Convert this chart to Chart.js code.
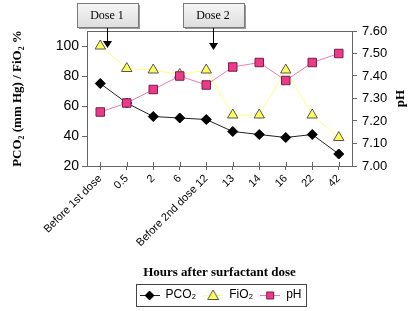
<!DOCTYPE html>
<html>
<head>
<meta charset="utf-8">
<script src="https://cdn.jsdelivr.net/npm/chart.js@4/dist/chart.umd.min.js"></script>
<style>
  html, body { margin: 0; padding: 0; background: #fff; }
</style>
</head>
<body>
<canvas id="myChart" width="413" height="311"></canvas>
<script>
// values
const hours = ['Before 1st dose', '0.5', '2', '6', 'Before 2nd dose 12', '13', '14', '16', '22', '42'];
const pco2 = [75, 62, 53, 52, 51, 43, 41, 39, 41, 28];
const fio2 = [100, 85, 84, 81, 84, 54, 54, 84, 54, 39];
const ph = [7.24, 7.28, 7.34, 7.40, 7.36, 7.44, 7.46, 7.38, 7.46, 7.50];
const doses = [{ label: 'Dose 1', at: 0 }, { label: 'Dose 2', at: 4 }];

const SANS = '"Liberation Sans", Arial, sans-serif';
const SERIF = '"Liberation Serif", "Times New Roman", serif';
const AXIS = '#666';

// little line+marker pictures for the legend
function mark(shape, line, fill, edge) {
  const c = document.createElement('canvas');
  c.width = 20; c.height = 12;
  const g = c.getContext('2d');
  g.strokeStyle = line; g.lineWidth = 1;
  g.beginPath(); g.moveTo(0, 6.5); g.lineTo(20, 6.5); g.stroke();
  g.fillStyle = fill; g.strokeStyle = edge;
  g.beginPath();
  if (shape === 'diamond') {
    g.moveTo(10, 2); g.lineTo(14.5, 6.5); g.lineTo(10, 11); g.lineTo(5.5, 6.5);
  } else if (shape === 'triangle') {
    g.moveTo(10, 1); g.lineTo(15.5, 10.5); g.lineTo(4.5, 10.5);
  } else {
    g.rect(6.5, 3, 7, 7);
  }
  g.closePath(); g.fill(); g.stroke();
  return c;
}
const marks = [
  mark('diamond', '#222', '#000', '#000'),
  mark('triangle', '#ffff80', '#ffff5a', '#555'),
  mark('square', '#f07ab0', '#ec3a8a', '#7a1f45')
];

const extras = {
  id: 'extras',
  afterDatasetsDraw(chart) {
    const ctx = chart.ctx;
    const a = chart.chartArea;
    const x = chart.scales.x;
    ctx.save();
    // top frame line
    ctx.strokeStyle = AXIS; ctx.lineWidth = 1;
    ctx.beginPath(); ctx.moveTo(a.left, a.top + 0.5); ctx.lineTo(a.right, a.top + 0.5); ctx.stroke();
    // x ticks poke up into the plot too
    x.ticks.forEach((t, i) => {
      const px = Math.round(x.getPixelForTick(i)) + 0.5;
      ctx.beginPath(); ctx.moveTo(px, a.bottom); ctx.lineTo(px, a.bottom - 4); ctx.stroke();
    });
    // dose boxes with arrows
    doses.forEach((d, i) => {
      const cx = Math.round(x.getPixelForValue(d.at)) + 7;
      const bw = 61, bh = 24, bx = cx - 30, by = 3;
      ctx.fillStyle = '#9a9a9a';
      ctx.fillRect(bx + 2, by + 2, bw, bh);
      const grad = ctx.createLinearGradient(0, by, 0, by + bh);
      grad.addColorStop(0, '#f6f6f6'); grad.addColorStop(1, '#dedede');
      ctx.fillStyle = grad;
      ctx.fillRect(bx, by, bw, bh);
      ctx.strokeStyle = '#7a7a7a';
      ctx.strokeRect(bx + 0.5, by + 0.5, bw, bh);
      ctx.fillStyle = '#000';
      ctx.font = '12px ' + SERIF;
      ctx.textAlign = 'center'; ctx.textBaseline = 'middle';
      ctx.fillText(d.label, cx, by + bh / 2 + 1);
      const tip = i === 0 ? 48 : 50;
      ctx.strokeStyle = '#000';
      ctx.beginPath(); ctx.moveTo(cx + 0.5, by + bh + 1); ctx.lineTo(cx + 0.5, tip - 6); ctx.stroke();
      ctx.beginPath(); ctx.moveTo(cx - 4, tip - 7); ctx.lineTo(cx + 5, tip - 7); ctx.lineTo(cx + 0.5, tip); ctx.closePath(); ctx.fill();
    });
    ctx.restore();
  },
  afterDraw(chart) {
    const ctx = chart.ctx;
    const a = chart.chartArea;
    ctx.save();
    // right axis title, reading upwards
    ctx.translate(401, (a.top + a.bottom) / 2);
    ctx.rotate(-Math.PI / 2);
    ctx.font = 'bold 13px ' + SERIF;
    ctx.fillStyle = '#000';
    ctx.textAlign = 'center'; ctx.textBaseline = 'middle';
    ctx.fillText('pH', 0, 0);
    ctx.restore();
    // frame round the legend
    const boxes = chart.legend.legendHitBoxes;
    if (boxes && boxes.length) {
      const l = boxes[0].left - 4;
      const r = boxes[boxes.length - 1].left + boxes[boxes.length - 1].width + 4;
      const cy = boxes[0].top + boxes[0].height / 2;
      ctx.save();
      ctx.strokeStyle = '#444'; ctx.lineWidth = 1;
      ctx.strokeRect(Math.round(l) + 0.5, Math.round(cy - 11) + 0.5, Math.round(r - l), 22);
      ctx.restore();
    }
  }
};

const ctx = document.getElementById('myChart').getContext('2d');
new Chart(ctx, {
  type: 'line',
  data: {
    labels: hours,
    datasets: [{
      label: 'PCO\u2082',
      data: pco2,
      yAxisID: 'y',
      order: 1,
      borderColor: '#222',
      borderWidth: 1,
      pointStyle: 'rectRot',
      pointRadius: 5,
      pointBackgroundColor: '#000',
      pointBorderColor: '#000',
      pointBorderWidth: 1
    }, {
      label: 'FiO\u2082',
      data: fio2,
      yAxisID: 'y',
      order: 2,
      borderColor: '#ffff80',
      borderWidth: 1,
      pointStyle: 'triangle',
      pointRadius: 6,
      pointBackgroundColor: '#ffff5a',
      pointBorderColor: '#555',
      pointBorderWidth: 1
    }, {
      label: 'pH',
      data: ph,
      yAxisID: 'y1',
      order: 0,
      borderColor: '#f07ab0',
      borderWidth: 1,
      pointStyle: 'rect',
      pointRadius: 6,
      pointBackgroundColor: '#ec3a8a',
      pointBorderColor: '#7a1f45',
      pointBorderWidth: 1
    }]
  },
  options: {
    responsive: false,
    animation: false,
    devicePixelRatio: 1,
    layout: { padding: { top: 31, left: 28, right: 0, bottom: 0 } },
    plugins: {
      tooltip: { enabled: false },
      legend: {
        position: 'bottom',
        labels: {
          usePointStyle: true,
          pointStyleWidth: 20,
          boxHeight: 12,
          padding: 7,
          color: '#000',
          font: { family: SANS, size: 12 },
          sort: (a, b) => a.datasetIndex - b.datasetIndex,
          generateLabels(chart) {
            const items = Chart.defaults.plugins.legend.labels.generateLabels(chart);
            items.forEach(it => { it.pointStyle = marks[it.datasetIndex]; });
            return items;
          }
        }
      }
    },
    scales: {
      x: {
        offset: true,
        grid: { offset: false, drawOnChartArea: false, tickLength: 4, color: AXIS },
        border: { color: AXIS },
        ticks: {
          autoSkip: false, minRotation: 45, maxRotation: 45, padding: 2,
          color: '#000', font: { family: SANS, size: 11 }
        },
        title: {
          display: true, text: 'Hours after surfactant dose', color: '#000',
          font: { family: SERIF, size: 13, weight: 'bold' },
          padding: { top: 0, bottom: 2 }
        },
        afterFit(scale) { scale.height = scale.chart.height - scale.chart.legend.height - 166; }
      },
      y: {
        position: 'left',
        min: 20, max: 110,
        grid: { drawOnChartArea: false, tickLength: 5, color: AXIS },
        border: { color: AXIS },
        ticks: { stepSize: 20, padding: 3, color: '#000', font: { family: SANS, size: 14 } },
        afterBuildTicks(scale) { scale.ticks = scale.ticks.filter(t => t.value % 20 === 0); },
        title: {
          display: true, text: 'PCO\u2082 (mm Hg) / FiO\u2082 %', color: '#000',
          font: { family: SERIF, size: 13, weight: 'bold' },
          padding: { top: -18, bottom: 0 }
        },
        afterFit(scale) { scale.width = 59; }
      },
      y1: {
        position: 'right',
        min: 7.0, max: 7.6,
        grid: { drawOnChartArea: false, tickLength: 5, color: AXIS },
        border: { color: AXIS },
        ticks: {
          stepSize: 0.1, padding: 5, color: '#000', font: { family: SANS, size: 13 },
          callback: v => Number(v).toFixed(2)
        },
        afterFit(scale) { scale.width = 61; }
      }
    }
  },
  plugins: [extras]
});
</script>
</body>
</html>
